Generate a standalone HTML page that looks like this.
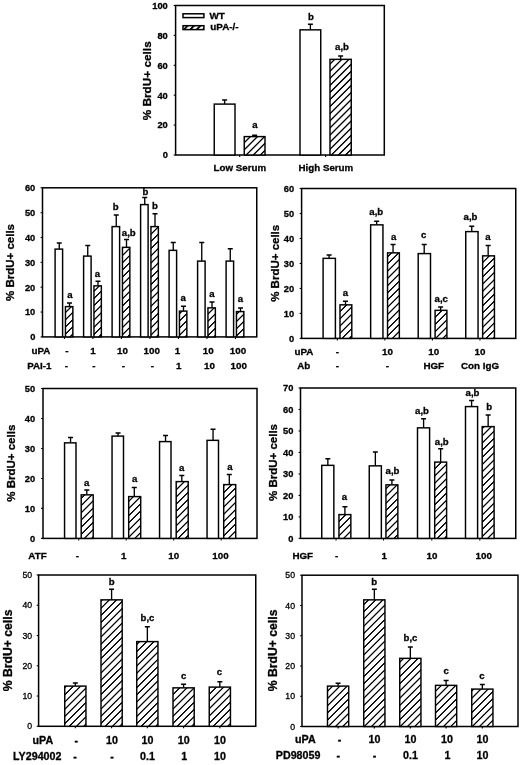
<!DOCTYPE html>
<html><head><meta charset="utf-8"><title>Figure</title>
<style>
html,body{margin:0;padding:0;background:#fff;}
body{width:520px;height:765px;overflow:hidden;}
svg{display:block;filter:grayscale(1) blur(0.3px);}
svg text{font-family:"Liberation Sans", sans-serif;font-weight:bold;fill:#000;stroke:#000;stroke-width:0.3px;}
</style></head><body>
<svg width="520" height="765" viewBox="0 0 520 765">
<defs>
<pattern id="h" patternUnits="userSpaceOnUse" width="8" height="7.2" patternTransform="skewY(-45)">
<rect width="8" height="7.2" fill="#fff"/><line x1="0" x2="8" y1="3.6" y2="3.6" stroke="#000" stroke-width="1.8"/>
</pattern>
<pattern id="h1" patternUnits="userSpaceOnUse" width="8" height="7.1" patternTransform="skewY(-45)">
<rect width="8" height="7.1" fill="#fff"/><line x1="0" x2="8" y1="3.55" y2="3.55" stroke="#000" stroke-width="1.95"/>
</pattern>
<pattern id="h2" patternUnits="userSpaceOnUse" width="8" height="6.4" patternTransform="skewY(-45)">
<rect width="8" height="6.4" fill="#fff"/><line x1="0" x2="8" y1="2.2" y2="2.2" stroke="#000" stroke-width="2.5"/>
</pattern>
</defs>
<rect width="520" height="765" fill="#fff"/>
<rect x="175.6" y="5.5" width="208.70000000000002" height="149.5" fill="none" stroke="#000" stroke-width="1.5"/>
<line x1="173.7" x2="175.6" y1="155.00" y2="155.00" stroke="#000" stroke-width="1.1"/>
<text x="167.80" y="158.33" font-size="9.3" text-anchor="end" >0</text>
<line x1="173.7" x2="175.6" y1="125.10" y2="125.10" stroke="#000" stroke-width="1.1"/>
<text x="167.80" y="128.43" font-size="9.3" text-anchor="end" >20</text>
<line x1="173.7" x2="175.6" y1="95.20" y2="95.20" stroke="#000" stroke-width="1.1"/>
<text x="167.80" y="98.53" font-size="9.3" text-anchor="end" >40</text>
<line x1="173.7" x2="175.6" y1="65.30" y2="65.30" stroke="#000" stroke-width="1.1"/>
<text x="167.80" y="68.63" font-size="9.3" text-anchor="end" >60</text>
<line x1="173.7" x2="175.6" y1="35.40" y2="35.40" stroke="#000" stroke-width="1.1"/>
<text x="167.80" y="38.73" font-size="9.3" text-anchor="end" >80</text>
<line x1="173.7" x2="175.6" y1="5.50" y2="5.50" stroke="#000" stroke-width="1.1"/>
<text x="167.80" y="8.83" font-size="9.3" text-anchor="end" >100</text>
<line x1="239.70" x2="239.70" y1="155.0" y2="157.0" stroke="#000" stroke-width="1.1"/>
<line x1="325.60" x2="325.60" y1="155.0" y2="157.0" stroke="#000" stroke-width="1.1"/>
<path d="M224.62 104.10V100.00M222.12 100.00H227.12" stroke="#000" stroke-width="1.35" fill="none"/>
<rect x="214.25" y="104.10" width="20.75" height="50.90" fill="#fff" stroke="none"/>
<rect x="214.25" y="104.10" width="20.75" height="50.90" fill="#fff" stroke="#000" stroke-width="1.45"/>
<path d="M254.62 136.60V135.20M252.12 135.20H257.12" stroke="#000" stroke-width="1.35" fill="none"/>
<rect x="244.25" y="136.60" width="20.75" height="18.40" fill="#fff" stroke="none"/>
<rect x="244.25" y="136.60" width="20.75" height="18.40" fill="url(#h1)" stroke="#000" stroke-width="1.45"/>
<path d="M310.38 29.85V24.25M307.88 24.25H312.88" stroke="#000" stroke-width="1.35" fill="none"/>
<rect x="300.00" y="29.85" width="20.75" height="125.15" fill="#fff" stroke="none"/>
<rect x="300.00" y="29.85" width="20.75" height="125.15" fill="#fff" stroke="#000" stroke-width="1.45"/>
<path d="M340.62 59.35V56.00M338.12 56.00H343.12" stroke="#000" stroke-width="1.35" fill="none"/>
<rect x="330.00" y="59.35" width="21.25" height="95.65" fill="#fff" stroke="none"/>
<rect x="330.00" y="59.35" width="21.25" height="95.65" fill="url(#h1)" stroke="#000" stroke-width="1.45"/>
<text x="255.00" y="127.50" font-size="9.6" text-anchor="middle" >a</text>
<text x="311.00" y="19.50" font-size="9.6" text-anchor="middle" >b</text>
<text x="342.00" y="49.50" font-size="9.6" text-anchor="middle" >a,b</text>
<text x="239.90" y="171.20" font-size="9.75" text-anchor="middle" >Low Serum</text>
<text x="325.90" y="171.20" font-size="9.75" text-anchor="middle" >High Serum</text>
<rect x="183.0" y="13.8" width="20.9" height="3.8" fill="#fff" stroke="#000" stroke-width="1.5"/>
<rect x="183.0" y="25.7" width="20.9" height="3.9" fill="url(#h2)" stroke="#000" stroke-width="1.5"/>
<text x="209.50" y="18.70" font-size="9.9" text-anchor="start" >WT</text>
<text x="210.30" y="30.20" font-size="9.9" text-anchor="start" >uPA-/-</text>
<text transform="translate(150.50,80.80) rotate(-90)" font-size="11.8" text-anchor="middle">% BrdU+ cells</text>
<rect x="42.5" y="187.8" width="214.25" height="149.09999999999997" fill="none" stroke="#000" stroke-width="1.5"/>
<line x1="40.6" x2="42.5" y1="336.90" y2="336.90" stroke="#000" stroke-width="1.1"/>
<text x="35.30" y="340.23" font-size="9.3" text-anchor="end" >0</text>
<line x1="40.6" x2="42.5" y1="312.05" y2="312.05" stroke="#000" stroke-width="1.1"/>
<text x="35.30" y="315.38" font-size="9.3" text-anchor="end" >10</text>
<line x1="40.6" x2="42.5" y1="287.20" y2="287.20" stroke="#000" stroke-width="1.1"/>
<text x="35.30" y="290.53" font-size="9.3" text-anchor="end" >20</text>
<line x1="40.6" x2="42.5" y1="262.35" y2="262.35" stroke="#000" stroke-width="1.1"/>
<text x="35.30" y="265.68" font-size="9.3" text-anchor="end" >30</text>
<line x1="40.6" x2="42.5" y1="237.50" y2="237.50" stroke="#000" stroke-width="1.1"/>
<text x="35.30" y="240.83" font-size="9.3" text-anchor="end" >40</text>
<line x1="40.6" x2="42.5" y1="212.65" y2="212.65" stroke="#000" stroke-width="1.1"/>
<text x="35.30" y="215.98" font-size="9.3" text-anchor="end" >50</text>
<line x1="40.6" x2="42.5" y1="187.80" y2="187.80" stroke="#000" stroke-width="1.1"/>
<text x="35.30" y="191.13" font-size="9.3" text-anchor="end" >60</text>
<line x1="64.40" x2="64.40" y1="336.9" y2="338.9" stroke="#000" stroke-width="1.1"/>
<line x1="92.90" x2="92.90" y1="336.9" y2="338.9" stroke="#000" stroke-width="1.1"/>
<line x1="121.40" x2="121.40" y1="336.9" y2="338.9" stroke="#000" stroke-width="1.1"/>
<line x1="149.90" x2="149.90" y1="336.9" y2="338.9" stroke="#000" stroke-width="1.1"/>
<line x1="178.40" x2="178.40" y1="336.9" y2="338.9" stroke="#000" stroke-width="1.1"/>
<line x1="206.90" x2="206.90" y1="336.9" y2="338.9" stroke="#000" stroke-width="1.1"/>
<line x1="235.40" x2="235.40" y1="336.9" y2="338.9" stroke="#000" stroke-width="1.1"/>
<path d="M59.25 249.10V243.00M56.75 243.00H61.75" stroke="#000" stroke-width="1.35" fill="none"/>
<rect x="55.10" y="249.10" width="7.50" height="87.80" fill="#fff" stroke="none"/>
<rect x="55.10" y="249.10" width="7.50" height="87.80" fill="#fff" stroke="#000" stroke-width="1.45"/>
<path d="M69.50 306.60V303.00M67.00 303.00H72.00" stroke="#000" stroke-width="1.35" fill="none"/>
<rect x="65.45" y="306.60" width="7.40" height="30.30" fill="#fff" stroke="none"/>
<rect x="65.45" y="306.60" width="7.40" height="30.30" fill="url(#h)" stroke="#000" stroke-width="1.45"/>
<path d="M87.75 256.10V245.50M85.25 245.50H90.25" stroke="#000" stroke-width="1.35" fill="none"/>
<rect x="83.60" y="256.10" width="7.50" height="80.80" fill="#fff" stroke="none"/>
<rect x="83.60" y="256.10" width="7.50" height="80.80" fill="#fff" stroke="#000" stroke-width="1.45"/>
<path d="M98.00 285.85V281.25M95.50 281.25H100.50" stroke="#000" stroke-width="1.35" fill="none"/>
<rect x="93.95" y="285.85" width="7.40" height="51.05" fill="#fff" stroke="none"/>
<rect x="93.95" y="285.85" width="7.40" height="51.05" fill="url(#h)" stroke="#000" stroke-width="1.45"/>
<path d="M116.25 226.60V215.00M113.75 215.00H118.75" stroke="#000" stroke-width="1.35" fill="none"/>
<rect x="112.10" y="226.60" width="7.50" height="110.30" fill="#fff" stroke="none"/>
<rect x="112.10" y="226.60" width="7.50" height="110.30" fill="#fff" stroke="#000" stroke-width="1.45"/>
<path d="M126.50 247.35V239.50M124.00 239.50H129.00" stroke="#000" stroke-width="1.35" fill="none"/>
<rect x="122.45" y="247.35" width="7.40" height="89.55" fill="#fff" stroke="none"/>
<rect x="122.45" y="247.35" width="7.40" height="89.55" fill="url(#h)" stroke="#000" stroke-width="1.45"/>
<path d="M144.75 204.60V197.50M142.25 197.50H147.25" stroke="#000" stroke-width="1.35" fill="none"/>
<rect x="140.60" y="204.60" width="7.50" height="132.30" fill="#fff" stroke="none"/>
<rect x="140.60" y="204.60" width="7.50" height="132.30" fill="#fff" stroke="#000" stroke-width="1.45"/>
<path d="M155.00 226.60V213.75M152.50 213.75H157.50" stroke="#000" stroke-width="1.35" fill="none"/>
<rect x="150.95" y="226.60" width="7.40" height="110.30" fill="#fff" stroke="none"/>
<rect x="150.95" y="226.60" width="7.40" height="110.30" fill="url(#h)" stroke="#000" stroke-width="1.45"/>
<path d="M173.25 250.35V242.50M170.75 242.50H175.75" stroke="#000" stroke-width="1.35" fill="none"/>
<rect x="169.10" y="250.35" width="7.50" height="86.55" fill="#fff" stroke="none"/>
<rect x="169.10" y="250.35" width="7.50" height="86.55" fill="#fff" stroke="#000" stroke-width="1.45"/>
<path d="M183.50 311.10V306.25M181.00 306.25H186.00" stroke="#000" stroke-width="1.35" fill="none"/>
<rect x="179.45" y="311.10" width="7.40" height="25.80" fill="#fff" stroke="none"/>
<rect x="179.45" y="311.10" width="7.40" height="25.80" fill="url(#h)" stroke="#000" stroke-width="1.45"/>
<path d="M201.75 261.10V242.50M199.25 242.50H204.25" stroke="#000" stroke-width="1.35" fill="none"/>
<rect x="197.60" y="261.10" width="7.50" height="75.80" fill="#fff" stroke="none"/>
<rect x="197.60" y="261.10" width="7.50" height="75.80" fill="#fff" stroke="#000" stroke-width="1.45"/>
<path d="M212.00 307.85V302.00M209.50 302.00H214.50" stroke="#000" stroke-width="1.35" fill="none"/>
<rect x="207.95" y="307.85" width="7.40" height="29.05" fill="#fff" stroke="none"/>
<rect x="207.95" y="307.85" width="7.40" height="29.05" fill="url(#h)" stroke="#000" stroke-width="1.45"/>
<path d="M230.25 261.10V248.75M227.75 248.75H232.75" stroke="#000" stroke-width="1.35" fill="none"/>
<rect x="226.10" y="261.10" width="7.50" height="75.80" fill="#fff" stroke="none"/>
<rect x="226.10" y="261.10" width="7.50" height="75.80" fill="#fff" stroke="#000" stroke-width="1.45"/>
<path d="M240.50 311.60V308.00M238.00 308.00H243.00" stroke="#000" stroke-width="1.35" fill="none"/>
<rect x="236.45" y="311.60" width="7.40" height="25.30" fill="#fff" stroke="none"/>
<rect x="236.45" y="311.60" width="7.40" height="25.30" fill="url(#h)" stroke="#000" stroke-width="1.45"/>
<text x="70.00" y="297.70" font-size="9.6" text-anchor="middle" >a</text>
<text x="97.50" y="276.60" font-size="9.6" text-anchor="middle" >a</text>
<text x="115.60" y="210.20" font-size="9.6" text-anchor="middle" >b</text>
<text x="128.80" y="236.00" font-size="9.6" text-anchor="middle" >a,b</text>
<text x="145.50" y="194.80" font-size="9.6" text-anchor="middle" >b</text>
<text x="155.00" y="208.75" font-size="9.6" text-anchor="middle" >b</text>
<text x="183.25" y="300.50" font-size="9.6" text-anchor="middle" >a</text>
<text x="212.00" y="297.00" font-size="9.6" text-anchor="middle" >a</text>
<text x="240.50" y="302.00" font-size="9.6" text-anchor="middle" >a</text>
<text x="41.00" y="353.80" font-size="9.8" text-anchor="middle" >uPA</text>
<text x="39.40" y="369.00" font-size="9.8" text-anchor="middle" >PAI-1</text>
<text x="67.00" y="353.80" font-size="9.8" text-anchor="middle" >-</text>
<text x="93.00" y="353.80" font-size="9.8" text-anchor="middle" >1</text>
<text x="122.50" y="353.80" font-size="9.8" text-anchor="middle" >10</text>
<text x="151.75" y="353.80" font-size="9.8" text-anchor="middle" >100</text>
<text x="177.50" y="353.80" font-size="9.8" text-anchor="middle" >1</text>
<text x="208.25" y="353.80" font-size="9.8" text-anchor="middle" >10</text>
<text x="238.00" y="353.80" font-size="9.8" text-anchor="middle" >100</text>
<text x="66.50" y="369.00" font-size="9.8" text-anchor="middle" >-</text>
<text x="94.00" y="369.00" font-size="9.8" text-anchor="middle" >-</text>
<text x="123.50" y="369.00" font-size="9.8" text-anchor="middle" >-</text>
<text x="152.50" y="369.00" font-size="9.8" text-anchor="middle" >-</text>
<text x="178.75" y="369.00" font-size="9.8" text-anchor="middle" >1</text>
<text x="209.50" y="369.00" font-size="9.8" text-anchor="middle" >10</text>
<text x="238.75" y="369.00" font-size="9.8" text-anchor="middle" >100</text>
<text transform="translate(14.30,262.50) rotate(-90)" font-size="11.5" text-anchor="middle">% BrdU+ cells</text>
<rect x="301.6" y="188.5" width="214.14999999999998" height="149.89999999999998" fill="none" stroke="#000" stroke-width="1.5"/>
<line x1="299.70000000000005" x2="301.6" y1="338.40" y2="338.40" stroke="#000" stroke-width="1.1"/>
<text x="294.20" y="341.73" font-size="9.3" text-anchor="end" >0</text>
<line x1="299.70000000000005" x2="301.6" y1="313.42" y2="313.42" stroke="#000" stroke-width="1.1"/>
<text x="294.20" y="316.75" font-size="9.3" text-anchor="end" >10</text>
<line x1="299.70000000000005" x2="301.6" y1="288.43" y2="288.43" stroke="#000" stroke-width="1.1"/>
<text x="294.20" y="291.76" font-size="9.3" text-anchor="end" >20</text>
<line x1="299.70000000000005" x2="301.6" y1="263.45" y2="263.45" stroke="#000" stroke-width="1.1"/>
<text x="294.20" y="266.78" font-size="9.3" text-anchor="end" >30</text>
<line x1="299.70000000000005" x2="301.6" y1="238.47" y2="238.47" stroke="#000" stroke-width="1.1"/>
<text x="294.20" y="241.80" font-size="9.3" text-anchor="end" >40</text>
<line x1="299.70000000000005" x2="301.6" y1="213.48" y2="213.48" stroke="#000" stroke-width="1.1"/>
<text x="294.20" y="216.81" font-size="9.3" text-anchor="end" >50</text>
<line x1="299.70000000000005" x2="301.6" y1="188.50" y2="188.50" stroke="#000" stroke-width="1.1"/>
<text x="294.20" y="191.83" font-size="9.3" text-anchor="end" >60</text>
<line x1="337.30" x2="337.30" y1="338.4" y2="340.4" stroke="#000" stroke-width="1.1"/>
<line x1="384.85" x2="384.85" y1="338.4" y2="340.4" stroke="#000" stroke-width="1.1"/>
<line x1="432.40" x2="432.40" y1="338.4" y2="340.4" stroke="#000" stroke-width="1.1"/>
<line x1="479.95" x2="479.95" y1="338.4" y2="340.4" stroke="#000" stroke-width="1.1"/>
<path d="M329.10 258.35V255.00M326.60 255.00H331.60" stroke="#000" stroke-width="1.35" fill="none"/>
<rect x="323.10" y="258.35" width="12.30" height="80.05" fill="#fff" stroke="none"/>
<rect x="323.10" y="258.35" width="12.30" height="80.05" fill="#fff" stroke="#000" stroke-width="1.45"/>
<path d="M345.50 304.85V301.25M343.00 301.25H348.00" stroke="#000" stroke-width="1.35" fill="none"/>
<rect x="340.00" y="304.85" width="11.80" height="33.55" fill="#fff" stroke="none"/>
<rect x="340.00" y="304.85" width="11.80" height="33.55" fill="url(#h)" stroke="#000" stroke-width="1.45"/>
<path d="M376.65 224.85V221.25M374.15 221.25H379.15" stroke="#000" stroke-width="1.35" fill="none"/>
<rect x="370.65" y="224.85" width="12.30" height="113.55" fill="#fff" stroke="none"/>
<rect x="370.65" y="224.85" width="12.30" height="113.55" fill="#fff" stroke="#000" stroke-width="1.45"/>
<path d="M393.05 252.85V244.50M390.55 244.50H395.55" stroke="#000" stroke-width="1.35" fill="none"/>
<rect x="387.55" y="252.85" width="11.80" height="85.55" fill="#fff" stroke="none"/>
<rect x="387.55" y="252.85" width="11.80" height="85.55" fill="url(#h)" stroke="#000" stroke-width="1.45"/>
<path d="M424.20 253.60V244.50M421.70 244.50H426.70" stroke="#000" stroke-width="1.35" fill="none"/>
<rect x="418.20" y="253.60" width="12.30" height="84.80" fill="#fff" stroke="none"/>
<rect x="418.20" y="253.60" width="12.30" height="84.80" fill="#fff" stroke="#000" stroke-width="1.45"/>
<path d="M440.60 310.35V307.00M438.10 307.00H443.10" stroke="#000" stroke-width="1.35" fill="none"/>
<rect x="435.10" y="310.35" width="11.80" height="28.05" fill="#fff" stroke="none"/>
<rect x="435.10" y="310.35" width="11.80" height="28.05" fill="url(#h)" stroke="#000" stroke-width="1.45"/>
<path d="M471.75 231.60V226.25M469.25 226.25H474.25" stroke="#000" stroke-width="1.35" fill="none"/>
<rect x="465.75" y="231.60" width="12.30" height="106.80" fill="#fff" stroke="none"/>
<rect x="465.75" y="231.60" width="12.30" height="106.80" fill="#fff" stroke="#000" stroke-width="1.45"/>
<path d="M488.15 255.85V245.50M485.65 245.50H490.65" stroke="#000" stroke-width="1.35" fill="none"/>
<rect x="482.65" y="255.85" width="11.80" height="82.55" fill="#fff" stroke="none"/>
<rect x="482.65" y="255.85" width="11.80" height="82.55" fill="url(#h)" stroke="#000" stroke-width="1.45"/>
<text x="345.50" y="296.25" font-size="9.6" text-anchor="middle" >a</text>
<text x="376.25" y="215.00" font-size="9.6" text-anchor="middle" >a,b</text>
<text x="393.75" y="240.00" font-size="9.6" text-anchor="middle" >a</text>
<text x="423.75" y="237.50" font-size="9.6" text-anchor="middle" >c</text>
<text x="441.25" y="302.00" font-size="9.6" text-anchor="middle" >a,c</text>
<text x="470.50" y="219.50" font-size="9.6" text-anchor="middle" >a,b</text>
<text x="488.00" y="240.00" font-size="9.6" text-anchor="middle" >a</text>
<text x="304.00" y="354.60" font-size="9.8" text-anchor="middle" >uPA</text>
<text x="303.75" y="368.60" font-size="9.8" text-anchor="middle" >Ab</text>
<text x="337.50" y="354.60" font-size="9.8" text-anchor="middle" >-</text>
<text x="387.50" y="354.60" font-size="9.8" text-anchor="middle" >10</text>
<text x="433.75" y="354.60" font-size="9.8" text-anchor="middle" >10</text>
<text x="480.00" y="354.60" font-size="9.8" text-anchor="middle" >10</text>
<text x="337.50" y="368.60" font-size="9.8" text-anchor="middle" >-</text>
<text x="387.50" y="368.60" font-size="9.8" text-anchor="middle" >-</text>
<text x="433.75" y="368.60" font-size="9.8" text-anchor="middle" >HGF</text>
<text x="480.00" y="368.60" font-size="9.8" text-anchor="middle" >Con IgG</text>
<text transform="translate(279.20,263.30) rotate(-90)" font-size="11.5" text-anchor="middle">% BrdU+ cells</text>
<rect x="43.0" y="388.5" width="214.0" height="149.89999999999998" fill="none" stroke="#000" stroke-width="1.5"/>
<line x1="41.1" x2="43.0" y1="538.40" y2="538.40" stroke="#000" stroke-width="1.1"/>
<text x="35.20" y="541.73" font-size="9.3" text-anchor="end" >0</text>
<line x1="41.1" x2="43.0" y1="508.42" y2="508.42" stroke="#000" stroke-width="1.1"/>
<text x="35.20" y="511.75" font-size="9.3" text-anchor="end" >10</text>
<line x1="41.1" x2="43.0" y1="478.44" y2="478.44" stroke="#000" stroke-width="1.1"/>
<text x="35.20" y="481.77" font-size="9.3" text-anchor="end" >20</text>
<line x1="41.1" x2="43.0" y1="448.46" y2="448.46" stroke="#000" stroke-width="1.1"/>
<text x="35.20" y="451.79" font-size="9.3" text-anchor="end" >30</text>
<line x1="41.1" x2="43.0" y1="418.48" y2="418.48" stroke="#000" stroke-width="1.1"/>
<text x="35.20" y="421.81" font-size="9.3" text-anchor="end" >40</text>
<line x1="41.1" x2="43.0" y1="388.50" y2="388.50" stroke="#000" stroke-width="1.1"/>
<text x="35.20" y="391.83" font-size="9.3" text-anchor="end" >50</text>
<line x1="78.70" x2="78.70" y1="538.4" y2="540.4" stroke="#000" stroke-width="1.1"/>
<line x1="126.20" x2="126.20" y1="538.4" y2="540.4" stroke="#000" stroke-width="1.1"/>
<line x1="173.70" x2="173.70" y1="538.4" y2="540.4" stroke="#000" stroke-width="1.1"/>
<line x1="221.20" x2="221.20" y1="538.4" y2="540.4" stroke="#000" stroke-width="1.1"/>
<path d="M70.55 442.85V437.50M68.05 437.50H73.05" stroke="#000" stroke-width="1.35" fill="none"/>
<rect x="64.55" y="442.85" width="11.45" height="95.55" fill="#fff" stroke="none"/>
<rect x="64.55" y="442.85" width="11.45" height="95.55" fill="#fff" stroke="#000" stroke-width="1.45"/>
<path d="M86.80 494.85V490.00M84.30 490.00H89.30" stroke="#000" stroke-width="1.35" fill="none"/>
<rect x="81.20" y="494.85" width="12.00" height="43.55" fill="#fff" stroke="none"/>
<rect x="81.20" y="494.85" width="12.00" height="43.55" fill="url(#h)" stroke="#000" stroke-width="1.45"/>
<path d="M118.05 436.10V433.00M115.55 433.00H120.55" stroke="#000" stroke-width="1.35" fill="none"/>
<rect x="112.05" y="436.10" width="11.45" height="102.30" fill="#fff" stroke="none"/>
<rect x="112.05" y="436.10" width="11.45" height="102.30" fill="#fff" stroke="#000" stroke-width="1.45"/>
<path d="M134.30 496.60V487.50M131.80 487.50H136.80" stroke="#000" stroke-width="1.35" fill="none"/>
<rect x="128.70" y="496.60" width="12.00" height="41.80" fill="#fff" stroke="none"/>
<rect x="128.70" y="496.60" width="12.00" height="41.80" fill="url(#h)" stroke="#000" stroke-width="1.45"/>
<path d="M165.55 441.60V435.50M163.05 435.50H168.05" stroke="#000" stroke-width="1.35" fill="none"/>
<rect x="159.55" y="441.60" width="11.45" height="96.80" fill="#fff" stroke="none"/>
<rect x="159.55" y="441.60" width="11.45" height="96.80" fill="#fff" stroke="#000" stroke-width="1.45"/>
<path d="M181.80 481.60V475.50M179.30 475.50H184.30" stroke="#000" stroke-width="1.35" fill="none"/>
<rect x="176.20" y="481.60" width="12.00" height="56.80" fill="#fff" stroke="none"/>
<rect x="176.20" y="481.60" width="12.00" height="56.80" fill="url(#h)" stroke="#000" stroke-width="1.45"/>
<path d="M213.05 440.35V429.25M210.55 429.25H215.55" stroke="#000" stroke-width="1.35" fill="none"/>
<rect x="207.05" y="440.35" width="11.45" height="98.05" fill="#fff" stroke="none"/>
<rect x="207.05" y="440.35" width="11.45" height="98.05" fill="#fff" stroke="#000" stroke-width="1.45"/>
<path d="M229.30 484.60V474.50M226.80 474.50H231.80" stroke="#000" stroke-width="1.35" fill="none"/>
<rect x="223.70" y="484.60" width="12.00" height="53.80" fill="#fff" stroke="none"/>
<rect x="223.70" y="484.60" width="12.00" height="53.80" fill="url(#h)" stroke="#000" stroke-width="1.45"/>
<text x="86.75" y="485.50" font-size="9.6" text-anchor="middle" >a</text>
<text x="134.75" y="482.00" font-size="9.6" text-anchor="middle" >a</text>
<text x="181.75" y="470.50" font-size="9.6" text-anchor="middle" >a</text>
<text x="230.00" y="469.50" font-size="9.6" text-anchor="middle" >a</text>
<text x="37.50" y="558.50" font-size="9.8" text-anchor="middle" >ATF</text>
<text x="77.50" y="558.50" font-size="9.8" text-anchor="middle" >-</text>
<text x="123.75" y="558.50" font-size="9.8" text-anchor="middle" >1</text>
<text x="173.75" y="558.50" font-size="9.8" text-anchor="middle" >10</text>
<text x="220.50" y="558.50" font-size="9.8" text-anchor="middle" >100</text>
<text transform="translate(14.50,463.20) rotate(-90)" font-size="11.5" text-anchor="middle">% BrdU+ cells</text>
<rect x="300.5" y="388.0" width="215.25" height="150.39999999999998" fill="none" stroke="#000" stroke-width="1.5"/>
<line x1="298.6" x2="300.5" y1="538.40" y2="538.40" stroke="#000" stroke-width="1.1"/>
<text x="293.40" y="541.73" font-size="9.3" text-anchor="end" >0</text>
<line x1="298.6" x2="300.5" y1="516.91" y2="516.91" stroke="#000" stroke-width="1.1"/>
<text x="293.40" y="520.24" font-size="9.3" text-anchor="end" >10</text>
<line x1="298.6" x2="300.5" y1="495.43" y2="495.43" stroke="#000" stroke-width="1.1"/>
<text x="293.40" y="498.76" font-size="9.3" text-anchor="end" >20</text>
<line x1="298.6" x2="300.5" y1="473.94" y2="473.94" stroke="#000" stroke-width="1.1"/>
<text x="293.40" y="477.27" font-size="9.3" text-anchor="end" >30</text>
<line x1="298.6" x2="300.5" y1="452.46" y2="452.46" stroke="#000" stroke-width="1.1"/>
<text x="293.40" y="455.79" font-size="9.3" text-anchor="end" >40</text>
<line x1="298.6" x2="300.5" y1="430.97" y2="430.97" stroke="#000" stroke-width="1.1"/>
<text x="293.40" y="434.30" font-size="9.3" text-anchor="end" >50</text>
<line x1="298.6" x2="300.5" y1="409.49" y2="409.49" stroke="#000" stroke-width="1.1"/>
<text x="293.40" y="412.82" font-size="9.3" text-anchor="end" >60</text>
<line x1="298.6" x2="300.5" y1="388.00" y2="388.00" stroke="#000" stroke-width="1.1"/>
<text x="293.40" y="391.33" font-size="9.3" text-anchor="end" >70</text>
<line x1="336.05" x2="336.05" y1="538.4" y2="540.4" stroke="#000" stroke-width="1.1"/>
<line x1="383.55" x2="383.55" y1="538.4" y2="540.4" stroke="#000" stroke-width="1.1"/>
<line x1="431.80" x2="431.80" y1="538.4" y2="540.4" stroke="#000" stroke-width="1.1"/>
<line x1="479.80" x2="479.80" y1="538.4" y2="540.4" stroke="#000" stroke-width="1.1"/>
<path d="M327.85 465.35V458.75M325.35 458.75H330.35" stroke="#000" stroke-width="1.35" fill="none"/>
<rect x="321.75" y="465.35" width="12.10" height="73.05" fill="#fff" stroke="none"/>
<rect x="321.75" y="465.35" width="12.10" height="73.05" fill="#fff" stroke="#000" stroke-width="1.45"/>
<path d="M344.90 514.60V506.75M342.40 506.75H347.40" stroke="#000" stroke-width="1.35" fill="none"/>
<rect x="338.95" y="514.60" width="11.90" height="23.80" fill="#fff" stroke="none"/>
<rect x="338.95" y="514.60" width="11.90" height="23.80" fill="url(#h)" stroke="#000" stroke-width="1.45"/>
<path d="M375.35 465.85V452.00M372.85 452.00H377.85" stroke="#000" stroke-width="1.35" fill="none"/>
<rect x="369.25" y="465.85" width="12.10" height="72.55" fill="#fff" stroke="none"/>
<rect x="369.25" y="465.85" width="12.10" height="72.55" fill="#fff" stroke="#000" stroke-width="1.45"/>
<path d="M391.90 484.85V480.00M389.40 480.00H394.40" stroke="#000" stroke-width="1.35" fill="none"/>
<rect x="385.95" y="484.85" width="11.90" height="53.55" fill="#fff" stroke="none"/>
<rect x="385.95" y="484.85" width="11.90" height="53.55" fill="url(#h)" stroke="#000" stroke-width="1.45"/>
<path d="M423.60 427.85V418.75M421.10 418.75H426.10" stroke="#000" stroke-width="1.35" fill="none"/>
<rect x="417.50" y="427.85" width="12.10" height="110.55" fill="#fff" stroke="none"/>
<rect x="417.50" y="427.85" width="12.10" height="110.55" fill="#fff" stroke="#000" stroke-width="1.45"/>
<path d="M440.65 462.10V448.75M438.15 448.75H443.15" stroke="#000" stroke-width="1.35" fill="none"/>
<rect x="434.70" y="462.10" width="11.90" height="76.30" fill="#fff" stroke="none"/>
<rect x="434.70" y="462.10" width="11.90" height="76.30" fill="url(#h)" stroke="#000" stroke-width="1.45"/>
<path d="M471.60 406.60V400.50M469.10 400.50H474.10" stroke="#000" stroke-width="1.35" fill="none"/>
<rect x="465.50" y="406.60" width="12.10" height="131.80" fill="#fff" stroke="none"/>
<rect x="465.50" y="406.60" width="12.10" height="131.80" fill="#fff" stroke="#000" stroke-width="1.45"/>
<path d="M488.15 426.60V415.00M485.65 415.00H490.65" stroke="#000" stroke-width="1.35" fill="none"/>
<rect x="482.20" y="426.60" width="11.90" height="111.80" fill="#fff" stroke="none"/>
<rect x="482.20" y="426.60" width="11.90" height="111.80" fill="url(#h)" stroke="#000" stroke-width="1.45"/>
<text x="344.50" y="500.00" font-size="9.6" text-anchor="middle" >a</text>
<text x="392.50" y="473.75" font-size="9.6" text-anchor="middle" >a,b</text>
<text x="422.00" y="413.75" font-size="9.6" text-anchor="middle" >a,b</text>
<text x="441.75" y="444.50" font-size="9.6" text-anchor="middle" >a,b</text>
<text x="472.50" y="395.50" font-size="9.6" text-anchor="middle" >a,b</text>
<text x="489.25" y="409.50" font-size="9.6" text-anchor="middle" >b</text>
<text x="302.75" y="559.30" font-size="9.8" text-anchor="middle" >HGF</text>
<text x="336.75" y="559.30" font-size="9.8" text-anchor="middle" >-</text>
<text x="384.25" y="559.30" font-size="9.8" text-anchor="middle" >1</text>
<text x="432.00" y="559.30" font-size="9.8" text-anchor="middle" >10</text>
<text x="483.75" y="559.30" font-size="9.8" text-anchor="middle" >100</text>
<text transform="translate(276.90,462.50) rotate(-90)" font-size="11.5" text-anchor="middle">% BrdU+ cells</text>
<rect x="38.6" y="575.0" width="217.15" height="151.29999999999995" fill="none" stroke="#000" stroke-width="1.5"/>
<line x1="36.7" x2="38.6" y1="726.30" y2="726.30" stroke="#000" stroke-width="1.1"/>
<text x="32.20" y="729.41" font-size="8.7" text-anchor="end" style="font-weight:normal;stroke-width:0.3px">0</text>
<line x1="36.7" x2="38.6" y1="696.04" y2="696.04" stroke="#000" stroke-width="1.1"/>
<text x="32.20" y="699.15" font-size="8.7" text-anchor="end" style="font-weight:normal;stroke-width:0.3px">10</text>
<line x1="36.7" x2="38.6" y1="665.78" y2="665.78" stroke="#000" stroke-width="1.1"/>
<text x="32.20" y="668.89" font-size="8.7" text-anchor="end" style="font-weight:normal;stroke-width:0.3px">20</text>
<line x1="36.7" x2="38.6" y1="635.52" y2="635.52" stroke="#000" stroke-width="1.1"/>
<text x="32.20" y="638.63" font-size="8.7" text-anchor="end" style="font-weight:normal;stroke-width:0.3px">30</text>
<line x1="36.7" x2="38.6" y1="605.26" y2="605.26" stroke="#000" stroke-width="1.1"/>
<text x="32.20" y="608.37" font-size="8.7" text-anchor="end" style="font-weight:normal;stroke-width:0.3px">40</text>
<line x1="36.7" x2="38.6" y1="575.00" y2="575.00" stroke="#000" stroke-width="1.1"/>
<text x="32.20" y="578.11" font-size="8.7" text-anchor="end" style="font-weight:normal;stroke-width:0.3px">50</text>
<line x1="75.35" x2="75.35" y1="726.3" y2="728.3" stroke="#000" stroke-width="1.1"/>
<line x1="111.60" x2="111.60" y1="726.3" y2="728.3" stroke="#000" stroke-width="1.1"/>
<line x1="147.35" x2="147.35" y1="726.3" y2="728.3" stroke="#000" stroke-width="1.1"/>
<line x1="183.60" x2="183.60" y1="726.3" y2="728.3" stroke="#000" stroke-width="1.1"/>
<line x1="219.85" x2="219.85" y1="726.3" y2="728.3" stroke="#000" stroke-width="1.1"/>
<path d="M75.35 686.10V683.00M72.85 683.00H77.85" stroke="#000" stroke-width="1.35" fill="none"/>
<rect x="64.75" y="686.10" width="21.20" height="40.20" fill="#fff" stroke="none"/>
<rect x="64.75" y="686.10" width="21.20" height="40.20" fill="url(#h)" stroke="#000" stroke-width="1.45"/>
<path d="M111.60 599.85V589.25M109.10 589.25H114.10" stroke="#000" stroke-width="1.35" fill="none"/>
<rect x="101.00" y="599.85" width="21.20" height="126.45" fill="#fff" stroke="none"/>
<rect x="101.00" y="599.85" width="21.20" height="126.45" fill="url(#h)" stroke="#000" stroke-width="1.45"/>
<path d="M147.35 641.60V626.75M144.85 626.75H149.85" stroke="#000" stroke-width="1.35" fill="none"/>
<rect x="136.75" y="641.60" width="21.20" height="84.70" fill="#fff" stroke="none"/>
<rect x="136.75" y="641.60" width="21.20" height="84.70" fill="url(#h)" stroke="#000" stroke-width="1.45"/>
<path d="M183.60 687.85V684.25M181.10 684.25H186.10" stroke="#000" stroke-width="1.35" fill="none"/>
<rect x="173.00" y="687.85" width="21.20" height="38.45" fill="#fff" stroke="none"/>
<rect x="173.00" y="687.85" width="21.20" height="38.45" fill="url(#h)" stroke="#000" stroke-width="1.45"/>
<path d="M219.85 687.10V681.75M217.35 681.75H222.35" stroke="#000" stroke-width="1.35" fill="none"/>
<rect x="209.25" y="687.10" width="21.20" height="39.20" fill="#fff" stroke="none"/>
<rect x="209.25" y="687.10" width="21.20" height="39.20" fill="url(#h)" stroke="#000" stroke-width="1.45"/>
<text x="111.75" y="584.50" font-size="9.6" text-anchor="middle" >b</text>
<text x="147.50" y="620.50" font-size="9.6" text-anchor="middle" >b,c</text>
<text x="183.75" y="678.75" font-size="9.6" text-anchor="middle" >c</text>
<text x="219.50" y="675.00" font-size="9.6" text-anchor="middle" >c</text>
<text x="42.90" y="743.50" font-size="10.7" text-anchor="middle" >uPA</text>
<text x="37.25" y="759.50" font-size="10.7" text-anchor="middle" >LY294002</text>
<text x="76.25" y="743.50" font-size="10.7" text-anchor="middle" >-</text>
<text x="112.00" y="743.50" font-size="10.7" text-anchor="middle" >10</text>
<text x="147.50" y="743.50" font-size="10.7" text-anchor="middle" >10</text>
<text x="183.75" y="743.50" font-size="10.7" text-anchor="middle" >10</text>
<text x="220.00" y="743.50" font-size="10.7" text-anchor="middle" >10</text>
<text x="75.00" y="759.50" font-size="10.7" text-anchor="middle" >-</text>
<text x="112.00" y="759.50" font-size="10.7" text-anchor="middle" >-</text>
<text x="147.50" y="759.50" font-size="10.7" text-anchor="middle" >0.1</text>
<text x="184.25" y="759.50" font-size="10.7" text-anchor="middle" >1</text>
<text x="220.00" y="759.50" font-size="10.7" text-anchor="middle" >10</text>
<text transform="translate(12.20,650.40) rotate(-90)" font-size="12.2" text-anchor="middle">% BrdU+ cells</text>
<rect x="302.0" y="575.2" width="216.0" height="151.29999999999995" fill="none" stroke="#000" stroke-width="1.5"/>
<line x1="300.1" x2="302.0" y1="726.50" y2="726.50" stroke="#000" stroke-width="1.1"/>
<text x="295.00" y="729.61" font-size="8.7" text-anchor="end" style="font-weight:normal;stroke-width:0.3px">0</text>
<line x1="300.1" x2="302.0" y1="696.24" y2="696.24" stroke="#000" stroke-width="1.1"/>
<text x="295.00" y="699.35" font-size="8.7" text-anchor="end" style="font-weight:normal;stroke-width:0.3px">10</text>
<line x1="300.1" x2="302.0" y1="665.98" y2="665.98" stroke="#000" stroke-width="1.1"/>
<text x="295.00" y="669.09" font-size="8.7" text-anchor="end" style="font-weight:normal;stroke-width:0.3px">20</text>
<line x1="300.1" x2="302.0" y1="635.72" y2="635.72" stroke="#000" stroke-width="1.1"/>
<text x="295.00" y="638.83" font-size="8.7" text-anchor="end" style="font-weight:normal;stroke-width:0.3px">30</text>
<line x1="300.1" x2="302.0" y1="605.46" y2="605.46" stroke="#000" stroke-width="1.1"/>
<text x="295.00" y="608.57" font-size="8.7" text-anchor="end" style="font-weight:normal;stroke-width:0.3px">40</text>
<line x1="300.1" x2="302.0" y1="575.20" y2="575.20" stroke="#000" stroke-width="1.1"/>
<text x="295.00" y="578.31" font-size="8.7" text-anchor="end" style="font-weight:normal;stroke-width:0.3px">50</text>
<line x1="338.10" x2="338.10" y1="726.5" y2="728.5" stroke="#000" stroke-width="1.1"/>
<line x1="374.35" x2="374.35" y1="726.5" y2="728.5" stroke="#000" stroke-width="1.1"/>
<line x1="410.35" x2="410.35" y1="726.5" y2="728.5" stroke="#000" stroke-width="1.1"/>
<line x1="446.10" x2="446.10" y1="726.5" y2="728.5" stroke="#000" stroke-width="1.1"/>
<line x1="482.35" x2="482.35" y1="726.5" y2="728.5" stroke="#000" stroke-width="1.1"/>
<path d="M338.10 686.10V683.25M335.60 683.25H340.60" stroke="#000" stroke-width="1.35" fill="none"/>
<rect x="327.50" y="686.10" width="21.20" height="40.40" fill="#fff" stroke="none"/>
<rect x="327.50" y="686.10" width="21.20" height="40.40" fill="url(#h)" stroke="#000" stroke-width="1.45"/>
<path d="M374.35 599.85V589.25M371.85 589.25H376.85" stroke="#000" stroke-width="1.35" fill="none"/>
<rect x="363.75" y="599.85" width="21.20" height="126.65" fill="#fff" stroke="none"/>
<rect x="363.75" y="599.85" width="21.20" height="126.65" fill="url(#h)" stroke="#000" stroke-width="1.45"/>
<path d="M410.35 658.35V647.00M407.85 647.00H412.85" stroke="#000" stroke-width="1.35" fill="none"/>
<rect x="399.75" y="658.35" width="21.20" height="68.15" fill="#fff" stroke="none"/>
<rect x="399.75" y="658.35" width="21.20" height="68.15" fill="url(#h)" stroke="#000" stroke-width="1.45"/>
<path d="M446.10 685.35V680.50M443.60 680.50H448.60" stroke="#000" stroke-width="1.35" fill="none"/>
<rect x="435.50" y="685.35" width="21.20" height="41.15" fill="#fff" stroke="none"/>
<rect x="435.50" y="685.35" width="21.20" height="41.15" fill="url(#h)" stroke="#000" stroke-width="1.45"/>
<path d="M482.35 689.10V684.50M479.85 684.50H484.85" stroke="#000" stroke-width="1.35" fill="none"/>
<rect x="471.75" y="689.10" width="21.20" height="37.40" fill="#fff" stroke="none"/>
<rect x="471.75" y="689.10" width="21.20" height="37.40" fill="url(#h)" stroke="#000" stroke-width="1.45"/>
<text x="374.25" y="585.00" font-size="9.6" text-anchor="middle" >b</text>
<text x="410.50" y="640.50" font-size="9.6" text-anchor="middle" >b,c</text>
<text x="446.25" y="673.75" font-size="9.6" text-anchor="middle" >c</text>
<text x="482.00" y="678.75" font-size="9.6" text-anchor="middle" >c</text>
<text x="305.40" y="742.50" font-size="10.7" text-anchor="middle" >uPA</text>
<text x="298.10" y="759.00" font-size="10.7" text-anchor="middle" >PD98059</text>
<text x="339.50" y="742.50" font-size="10.7" text-anchor="middle" >-</text>
<text x="374.50" y="742.50" font-size="10.7" text-anchor="middle" >10</text>
<text x="410.50" y="742.50" font-size="10.7" text-anchor="middle" >10</text>
<text x="447.00" y="742.50" font-size="10.7" text-anchor="middle" >10</text>
<text x="482.50" y="742.50" font-size="10.7" text-anchor="middle" >10</text>
<text x="338.25" y="759.00" font-size="10.7" text-anchor="middle" >-</text>
<text x="374.50" y="759.00" font-size="10.7" text-anchor="middle" >-</text>
<text x="410.50" y="759.00" font-size="10.7" text-anchor="middle" >0.1</text>
<text x="447.50" y="759.00" font-size="10.7" text-anchor="middle" >1</text>
<text x="482.50" y="759.00" font-size="10.7" text-anchor="middle" >10</text>
<text transform="translate(276.50,650.40) rotate(-90)" font-size="12.2" text-anchor="middle">% BrdU+ cells</text>
</svg>
</body></html>
